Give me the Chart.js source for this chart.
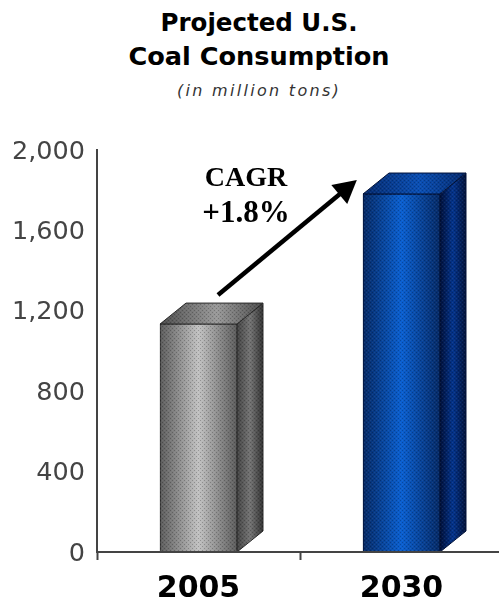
<!DOCTYPE html>
<html>
<head>
<meta charset="utf-8">
<script src="https://cdn.jsdelivr.net/npm/chart.js@4/dist/chart.umd.min.js"></script>
<style>
    html, body { margin: 0; padding: 0; background: #fff; overflow: hidden; }
    #wrap { position: relative; width: 499px; height: 605px; overflow: hidden; }
    #wrap canvas { position: absolute; left: 0; top: 0; }
    .head { position: absolute; left: 19px; width: 480px; text-align: center; white-space: nowrap; color: #000; }
    .main { font-family: "DejaVu Sans"; font-weight: bold; }
    .sub { font: italic 16px "DejaVu Sans"; color: #333; letter-spacing: 2.3px; }
</style>
</head>
<body>
<div id="wrap">
    <div class="head main" style="top:8px; font-size:24.5px">Projected U.S.</div>
    <div class="head main" style="top:41px; font-size:25.6px">Coal Consumption</div>
    <div class="head sub" style="top:81px">(in million tons)</div>
    <canvas id="coalChart" width="503" height="605"></canvas>
</div>
<script>
    const categories = ['2005', '2030'];
    const consumption = [1134, 1781];
    const yTicks = [0, 400, 800, 1200, 1600, 2000];
    const calloutLines = ['CAGR', '+1.8%'];

    // cores: frente (borda, centro), lado (escuro, claro, fim), topo (escuro, claro)
    const palettes = [
        { edge: '#5c5c5c', mid: '#c2c2c2', sideA: '#444444', sideM: '#747474', sideB: '#333333', topA: '#4c4c4c', topB: '#9a9a9a', line: '#2a2a2a' },
        { edge: '#062a66', mid: '#0a5fd0', sideA: '#01103a', sideM: '#04348c', sideB: '#02123a', topA: '#052a6e', topB: '#0a4fb4', line: '#021238' }
    ];

    const barWidth = 77;
    const depthX = 26;
    const depthY = 21;

    function frontGradient(chart, i) {
        const cx = chart.scales.x ? chart.scales.x.getPixelForValue(i) : NaN;
        if (!Number.isFinite(cx)) return palettes[i].mid;
        const g = chart.ctx.createLinearGradient(cx - barWidth / 2, 0, cx + barWidth / 2, 0);
        g.addColorStop(0, palettes[i].edge);
        g.addColorStop(0.5, palettes[i].mid);
        g.addColorStop(1, palettes[i].edge);
        return g;
    }

    function sidePath(ctx, bar) {
        const r = bar.x + bar.width / 2;
        ctx.beginPath();
        ctx.moveTo(r, bar.base);
        ctx.lineTo(r + depthX, bar.base - depthY);
        ctx.lineTo(r + depthX, bar.y - depthY);
        ctx.lineTo(r, bar.y);
        ctx.closePath();
    }

    function topPath(ctx, bar) {
        const l = bar.x - bar.width / 2, r = bar.x + bar.width / 2;
        ctx.beginPath();
        ctx.moveTo(l, bar.y);
        ctx.lineTo(l + depthX, bar.y - depthY);
        ctx.lineTo(r + depthX, bar.y - depthY);
        ctx.lineTo(r, bar.y);
        ctx.closePath();
    }

    // pontilhado do original
    function ditherPattern(ctx) {
        const c = document.createElement('canvas');
        c.width = c.height = 4;
        const p = c.getContext('2d');
        p.fillStyle = 'rgba(0,0,0,0.22)';
        p.fillRect(0, 0, 1, 1);
        p.fillRect(2, 2, 1, 1);
        p.fillStyle = 'rgba(255,255,255,0.07)';
        p.fillRect(2, 0, 1, 1);
        p.fillRect(0, 2, 1, 1);
        return ctx.createPattern(c, 'repeat');
    }

    const boxDepth = {
        id: 'boxDepth',
        beforeDatasetsDraw(chart) {
            const ctx = chart.ctx;
            chart.getDatasetMeta(0).data.forEach((bar, i) => {
                const p = palettes[i];
                const l = bar.x - bar.width / 2, r = bar.x + bar.width / 2;
                ctx.save();
                ctx.strokeStyle = p.line;
                ctx.lineWidth = 1;

                let g = ctx.createLinearGradient(r, 0, r + depthX, 0);
                g.addColorStop(0, p.sideA);
                g.addColorStop(0.5, p.sideM);
                g.addColorStop(1, p.sideB);
                ctx.fillStyle = g;
                sidePath(ctx, bar);
                ctx.fill();
                ctx.stroke();

                g = ctx.createLinearGradient(l, 0, r + depthX, 0);
                g.addColorStop(0, p.topA);
                g.addColorStop(0.55, p.topB);
                g.addColorStop(1, p.topA);
                ctx.fillStyle = g;
                topPath(ctx, bar);
                ctx.fill();
                ctx.stroke();
                ctx.restore();
            });
        },
        afterDatasetsDraw(chart) {
            const ctx = chart.ctx;
            const pattern = ditherPattern(ctx);
            chart.getDatasetMeta(0).data.forEach((bar) => {
                ctx.save();
                ctx.fillStyle = pattern;
                sidePath(ctx, bar);
                ctx.fill();
                topPath(ctx, bar);
                ctx.fill();
                ctx.fillRect(bar.x - bar.width / 2, bar.y, bar.width, bar.base - bar.y);
                ctx.restore();
            });
        }
    };

    // seta e texto do CAGR, posicionados pelas escalas
    const callout = {
        id: 'callout',
        afterDatasetsDraw(chart) {
            const ctx = chart.ctx;
            const x = chart.scales.x, y = chart.scales.y;
            const x0 = x.getPixelForValue(0.096), y0 = y.getPixelForValue(1279);
            const x1 = x.getPixelForValue(0.78), y1 = y.getPixelForValue(1851);
            const a = Math.atan2(y1 - y0, x1 - x0);
            const head = 26, wing = 0.5;

            ctx.save();
            ctx.strokeStyle = '#000';
            ctx.fillStyle = '#000';
            ctx.lineWidth = 4.5;
            ctx.beginPath();
            ctx.moveTo(x0, y0);
            ctx.lineTo(x1 - Math.cos(a) * head * 0.8, y1 - Math.sin(a) * head * 0.8);
            ctx.stroke();
            ctx.beginPath();
            ctx.moveTo(x1, y1);
            ctx.lineTo(x1 - head * Math.cos(a - wing), y1 - head * Math.sin(a - wing));
            ctx.lineTo(x1 - head * Math.cos(a + wing), y1 - head * Math.sin(a + wing));
            ctx.closePath();
            ctx.fill();

            ctx.textAlign = 'center';
            ctx.textBaseline = 'middle';
            ctx.font = 'bold 28px "Liberation Serif"';
            ctx.fillText(calloutLines[0], x.getPixelForValue(0.234), y.getPixelForValue(1858));
            ctx.font = 'bold 31px "Liberation Serif"';
            ctx.fillText(calloutLines[1], x.getPixelForValue(0.234), y.getPixelForValue(1680));
            ctx.restore();
        }
    };

    new Chart(document.getElementById('coalChart'), {
        type: 'bar',
        data: {
            labels: categories,
            datasets: [{
                data: consumption,
                barThickness: barWidth,
                backgroundColor: (c) => frontGradient(c.chart, c.dataIndex),
                borderColor: (c) => palettes[c.dataIndex].line,
                borderWidth: 1
            }]
        },
        options: {
            responsive: false,
            animation: false,
            layout: { padding: { top: 150, right: 0, bottom: 0, left: 0 } },
            plugins: { legend: { display: false }, tooltip: { enabled: false } },
            scales: {
                x: {
                    afterFit: (s) => { s.height = 53; },
                    grid: { drawOnChartArea: false, tickLength: 8, tickColor: '#444', tickWidth: 2, z: 1 },
                    border: { color: '#444', width: 2, z: 1 },
                    ticks: { color: '#000', padding: 11, font: { family: 'DejaVu Sans', weight: 'bold', size: 30 } }
                },
                y: {
                    min: 0,
                    max: 2000,
                    afterFit: (s) => { s.width = 97; },
                    afterBuildTicks: (s) => { s.ticks = yTicks.map((value) => ({ value })); },
                    grid: { display: false },
                    border: { color: '#444', width: 2 },
                    ticks: {
                        color: '#444',
                        padding: 4,
                        labelOffset: 2,
                        font: { family: 'DejaVu Sans', size: 25.5 },
                        callback: (v) => v.toLocaleString('en-US')
                    }
                }
            }
        },
        plugins: [boxDepth, callout]
    });
</script>
</body>
</html>
